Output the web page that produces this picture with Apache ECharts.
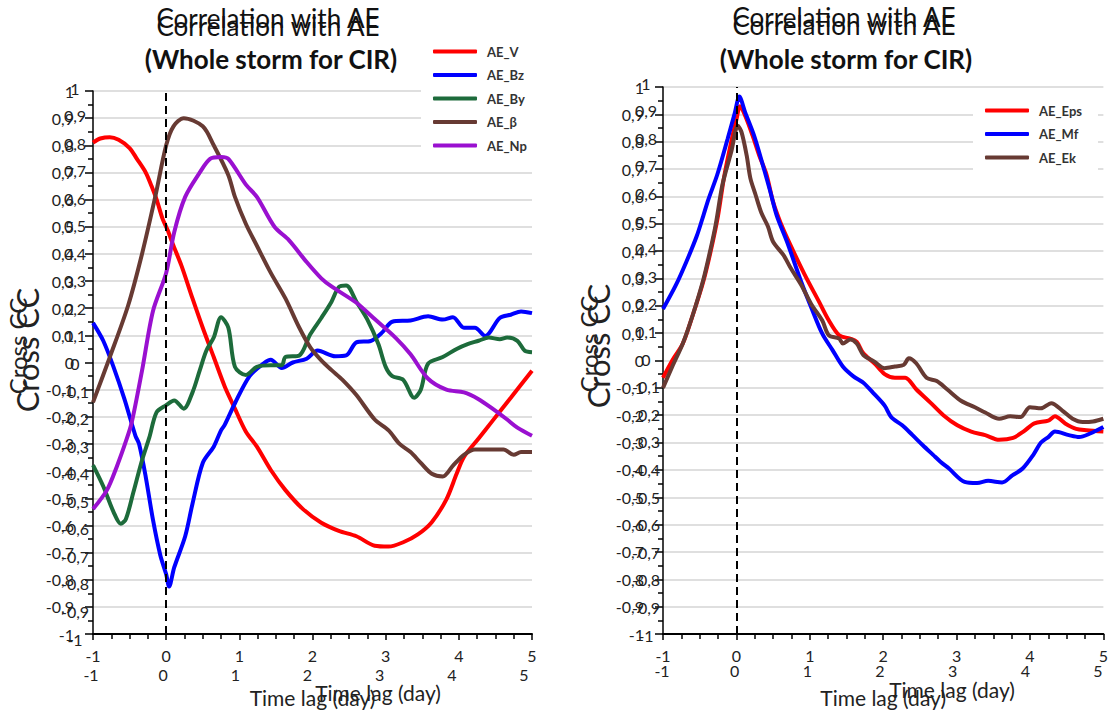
<!DOCTYPE html>
<html><head><meta charset="utf-8">
<script src="https://cdn.jsdelivr.net/npm/echarts@6/dist/echarts.min.js"></script>
<style>html,body{margin:0;padding:0;background:#fff}#c{width:1111px;height:713px}</style>
</head><body><div id="c"></div>
<script>
const titleText = 'Correlation with AE';
const subTitleText = '(Whole storm for CIR)';
const xAxisName = 'Time lag (day)';
const yAxisName = 'Cross CC';
const xTickValues = [-1, 0, 1, 2, 3, 4, 5];
const yTickLabels = ['-1','-0,9','-0,8','-0,7','-0,6','-0,5','-0,4','-0,3','-0,2','-0,1','0','0,1','0,2','0,3','0,4','0,5','0,6','0,7','0,8','0,9','1'];
const leftNames = ['AE_V', 'AE_Bz', 'AE_By', 'AE_β', 'AE_Np'];
const rightNames = ['AE_Eps', 'AE_Mf', 'AE_Ek'];

const AE_V = [[-1,0.81],[-0.9,0.825],[-0.77,0.83],[-0.65,0.82],[-0.5,0.79],[-0.4,0.75],[-0.28,0.70],[-0.2,0.65],[-0.13,0.60],[-0.05,0.53],[0.02,0.488],[0.1,0.43],[0.21,0.356],[0.36,0.236],[0.5,0.128],[0.65,0.02],[0.8,-0.088],[0.94,-0.17],[1.09,-0.255],[1.24,-0.31],[1.43,-0.396],[1.63,-0.47],[1.87,-0.54],[2.12,-0.59],[2.36,-0.62],[2.6,-0.64],[2.85,-0.675],[3.04,-0.678],[3.24,-0.662],[3.44,-0.633],[3.63,-0.588],[3.83,-0.504],[3.97,-0.41],[4.07,-0.348],[4.27,-0.28],[4.46,-0.215],[4.71,-0.13],[5,-0.03]];
const AE_Bz = [[-1,0.146],[-0.86,0.08],[-0.72,-0.016],[-0.57,-0.135],[-0.42,-0.27],[-0.37,-0.30],[-0.28,-0.42],[-0.18,-0.58],[-0.08,-0.71],[0,-0.78],[0.04,-0.825],[0.11,-0.755],[0.26,-0.64],[0.36,-0.52],[0.5,-0.37],[0.65,-0.31],[0.75,-0.25],[0.8,-0.23],[0.94,-0.15],[1.14,-0.05],[1.33,-0.004],[1.43,0.01],[1.58,-0.02],[1.73,0.0],[1.92,0.014],[2.07,0.044],[2.31,0.023],[2.46,0.026],[2.6,0.074],[2.8,0.08],[2.95,0.11],[3.09,0.15],[3.34,0.155],[3.58,0.17],[3.78,0.158],[3.92,0.167],[4.07,0.128],[4.22,0.128],[4.36,0.098],[4.56,0.164],[4.71,0.176],[4.85,0.188],[5,0.182]];
const AE_By = [[-1,-0.378],[-0.86,-0.456],[-0.72,-0.55],[-0.62,-0.594],[-0.55,-0.576],[-0.45,-0.48],[-0.33,-0.36],[-0.23,-0.276],[-0.13,-0.183],[0,-0.157],[0.11,-0.14],[0.24,-0.17],[0.36,-0.11],[0.46,-0.028],[0.55,0.044],[0.65,0.092],[0.75,0.167],[0.85,0.128],[0.94,-0.016],[1.09,-0.046],[1.24,-0.016],[1.43,-0.01],[1.58,-0.01],[1.63,0.02],[1.82,0.026],[1.97,0.104],[2.12,0.164],[2.26,0.224],[2.36,0.278],[2.46,0.284],[2.6,0.224],[2.75,0.158],[2.9,0.068],[3.0,-0.016],[3.09,-0.05],[3.24,-0.064],[3.39,-0.13],[3.48,-0.1],[3.58,-0.004],[3.78,0.02],[3.97,0.05],[4.12,0.068],[4.27,0.08],[4.41,0.092],[4.56,0.086],[4.66,0.092],[4.8,0.08],[4.9,0.044],[5,0.038]];
const AE_Beta = [[-1,-0.147],[-0.77,0.02],[-0.52,0.21],[-0.33,0.40],[-0.15,0.61],[0,0.8],[0.1,0.87],[0.24,0.90],[0.5,0.87],[0.65,0.8],[0.85,0.69],[0.94,0.61],[1.09,0.51],[1.24,0.43],[1.43,0.33],[1.63,0.236],[1.82,0.128],[1.97,0.056],[2.12,0.008],[2.26,-0.028],[2.41,-0.064],[2.6,-0.12],[2.85,-0.21],[3.04,-0.25],[3.19,-0.30],[3.34,-0.33],[3.48,-0.37],[3.63,-0.41],[3.78,-0.42],[3.92,-0.38],[4.07,-0.34],[4.22,-0.32],[4.46,-0.32],[4.61,-0.32],[4.75,-0.34],[4.85,-0.33],[5,-0.33]];
const AE_Np = [[-1,-0.54],[-0.81,-0.47],[-0.67,-0.38],[-0.55,-0.29],[-0.47,-0.22],[-0.33,-0.03],[-0.18,0.19],[0,0.33],[0.11,0.48],[0.26,0.61],[0.46,0.70],[0.6,0.75],[0.75,0.757],[0.85,0.75],[1.09,0.655],[1.24,0.61],[1.48,0.5],[1.68,0.45],[1.92,0.37],[2.12,0.31],[2.26,0.28],[2.6,0.22],[2.85,0.16],[3.14,0.09],[3.34,0.03],[3.58,-0.06],[3.83,-0.10],[4.07,-0.11],[4.27,-0.135],[4.46,-0.17],[4.66,-0.21],[4.8,-0.24],[5,-0.27]];

const AE_Eps = [[-1,-0.063],[-0.87,0.002],[-0.73,0.062],[-0.59,0.17],[-0.45,0.29],[-0.35,0.40],[-0.25,0.53],[-0.17,0.667],[-0.07,0.80],[0,0.88],[0.05,0.93],[0.12,0.895],[0.22,0.823],[0.31,0.75],[0.41,0.68],[0.5,0.58],[0.6,0.505],[0.74,0.42],[0.93,0.314],[1.12,0.218],[1.26,0.146],[1.4,0.092],[1.55,0.08],[1.64,0.068],[1.73,0.026],[1.88,-0.01],[2.02,-0.05],[2.16,-0.063],[2.3,-0.063],[2.45,-0.105],[2.64,-0.153],[2.82,-0.2],[3.01,-0.237],[3.2,-0.26],[3.39,-0.273],[3.58,-0.29],[3.77,-0.283],[3.91,-0.26],[4.06,-0.23],[4.25,-0.22],[4.34,-0.204],[4.48,-0.23],[4.63,-0.25],[4.77,-0.255],[5,-0.26]];
const AE_Mf = [[-1,0.188],[-0.82,0.278],[-0.68,0.362],[-0.54,0.455],[-0.45,0.53],[-0.38,0.59],[-0.26,0.68],[-0.12,0.81],[-0.02,0.907],[0.04,0.965],[0.12,0.907],[0.24,0.823],[0.36,0.715],[0.46,0.62],[0.55,0.53],[0.69,0.434],[0.88,0.29],[1.02,0.194],[1.17,0.098],[1.31,0.038],[1.45,-0.022],[1.59,-0.057],[1.73,-0.081],[1.88,-0.123],[2.02,-0.165],[2.11,-0.207],[2.26,-0.237],[2.4,-0.273],[2.54,-0.31],[2.68,-0.345],[2.78,-0.37],[2.9,-0.396],[3.11,-0.444],[3.28,-0.448],[3.43,-0.44],[3.62,-0.446],[3.76,-0.42],[3.9,-0.395],[4.05,-0.343],[4.15,-0.30],[4.25,-0.28],[4.34,-0.26],[4.53,-0.273],[4.67,-0.28],[4.82,-0.267],[5,-0.243]];
const AE_Ek = [[-1,-0.1],[-0.87,-0.02],[-0.73,0.062],[-0.59,0.17],[-0.45,0.296],[-0.35,0.41],[-0.28,0.5],[-0.19,0.643],[-0.07,0.763],[0.02,0.858],[0.07,0.835],[0.14,0.75],[0.19,0.667],[0.26,0.607],[0.34,0.54],[0.43,0.49],[0.5,0.434],[0.64,0.386],[0.74,0.338],[0.88,0.278],[1.02,0.206],[1.17,0.146],[1.26,0.092],[1.4,0.08],[1.45,0.062],[1.55,0.077],[1.64,0.062],[1.73,0.02],[1.88,-0.004],[2.02,-0.028],[2.16,-0.022],[2.28,-0.016],[2.35,0.008],[2.45,-0.01],[2.59,-0.063],[2.73,-0.075],[2.87,-0.105],[3.06,-0.147],[3.25,-0.171],[3.39,-0.19],[3.58,-0.213],[3.73,-0.204],[3.87,-0.207],[4.0,-0.171],[4.15,-0.175],[4.29,-0.156],[4.44,-0.183],[4.58,-0.213],[4.72,-0.225],[4.86,-0.223],[5,-0.213]];

const leftData = [AE_V, AE_Bz, AE_By, AE_Beta, AE_Np];
const rightData = [AE_Eps, AE_Mf, AE_Ek];
const leftColors = ['#ff0000', '#0000ff', '#1d6b3b', '#673a33', '#9a10d0'];
const rightColors = ['#ff0000', '#0000ff', '#673a33'];

const FONT = 'Lato, "Open Sans", sans-serif';
const TXT = '#222';

function yFmt(v) {
  const i = Math.round((v + 1) * 10);
  return yTickLabels[i] !== undefined ? yTickLabels[i] : '';
}
function xFmt(v) {
  const r = Math.round(v);
  return xTickValues.indexOf(r) >= 0 ? String(r) : '';
}

const grids = [
  {left: 93, top: 91, width: 439, height: 557},   // left main
  {left: 91, top: 88, width: 433, height: 551},   // left echo labels
  {left: 663, top: 87, width: 441, height: 561},  // right main
  {left: 662, top: 83, width: 436, height: 552}   // right echo labels
];

function mainX(gi) {
  return {
    gridIndex: gi, type: 'value', min: -1, max: 5, interval: 1,
    axisLine: {onZero: false, lineStyle: {color: '#000', width: 2}},
    axisTick: {show: true, length: 6, lineStyle: {color: '#000', width: 1.5}},
    minorTick: {show: true, splitNumber: 4, length: 5, lineStyle: {color: '#000', width: 1.5}},
    splitLine: {show: false}, minorSplitLine: {show: false},
    axisLabel: {margin: 13, fontSize: 16, color: TXT, fontFamily: FONT, formatter: xFmt},
    name: xAxisName, nameLocation: 'middle', nameGap: 53,
    nameTextStyle: {fontSize: 21, color: TXT, fontFamily: FONT}
  };
}
function echoX(gi) {
  return {
    gridIndex: gi, type: 'value', min: -1, max: 5, interval: 1,
    axisLine: {show: false}, axisTick: {show: false}, splitLine: {show: false},
    axisLabel: {margin: 27, fontSize: 16, color: TXT, fontFamily: FONT, formatter: xFmt}
  };
}
function mainY(gi) {
  return {
    gridIndex: gi, type: 'value', min: -1, max: 1, interval: 0.1,
    axisLine: {show: true, onZero: false, lineStyle: {color: '#000', width: 1.5}},
    axisTick: {show: true, length: 8, lineStyle: {color: '#000', width: 1.5}},
    minorTick: {show: true, splitNumber: 2, length: 5, lineStyle: {color: '#000', width: 1.5}},
    splitLine: {show: true, lineStyle: {color: '#d4d4d4', width: 1.5}},
    axisLabel: {margin: 19, fontSize: 16, color: TXT, fontFamily: FONT, formatter: yFmt, padding: [4, 0, 0, 0]}
  };
}
function echoY(gi) {
  return {
    gridIndex: gi, type: 'value', min: -1, max: 1, interval: 0.1,
    axisLine: {show: false}, axisTick: {show: false}, splitLine: {show: false},
    axisLabel: {margin: 16, align: 'center', fontSize: 16, color: TXT, fontFamily: FONT, formatter: yFmt}
  };
}

const dashed = {
  silent: true, symbol: 'none', label: {show: false},
  lineStyle: {color: '#000', type: [8, 5], width: 2},
  data: [{xAxis: 0}]
};

const series = [];
leftNames.forEach((n, i) => series.push({
  name: n, type: 'line', xAxisIndex: 0, yAxisIndex: 0, data: leftData[i],
  showSymbol: false, symbol: 'none', smooth: 0.3, color: leftColors[i],
  lineStyle: {width: 4, color: leftColors[i]},
  markLine: i === 0 ? dashed : undefined
}));
rightNames.forEach((n, i) => series.push({
  name: n, type: 'line', xAxisIndex: 2, yAxisIndex: 2, data: rightData[i],
  showSymbol: false, symbol: 'none', smooth: 0.3, color: rightColors[i],
  lineStyle: {width: 4, color: rightColors[i]},
  markLine: i === 0 ? dashed : undefined
}));

function titleAt(cx, top, text, size, weight) {
  return {text: text, left: cx, top: top, textAlign: 'center', padding: 0,
    textStyle: {fontSize: size, fontWeight: weight, color: '#111', fontFamily: FONT}};
}
function txt(x, y, text, size, rot) {
  return {type: 'text', x: x, y: y, rotation: rot || 0, silent: true,
    style: {text: text, font: size + 'px ' + FONT, fontSize: size, fontFamily: FONT, fill: TXT, align: 'center', verticalAlign: 'middle'}};
}

const legendBase = {
  orient: 'vertical', icon: 'roundRect', itemWidth: 44, itemHeight: 4, itemGap: 8.5,
  backgroundColor: '#fff',
  textStyle: {fontSize: 13, fontWeight: 'bold', color: '#333', fontFamily: FONT, lineHeight: 15, padding: [0, 0, 0, 5]}
};

const option = {
  animation: false,
  backgroundColor: '#fff',
  title: [
    titleAt(268, 5, titleText, 26, 'normal'),
    titleAt(268, 13, titleText, 26, 'normal'),
    titleAt(271, 46, subTitleText, 26, 'bold'),
    titleAt(844, 4, titleText, 26, 'normal'),
    titleAt(844, 12, titleText, 26, 'normal'),
    titleAt(846, 46, subTitleText, 26, 'bold')
  ],
  legend: [
    Object.assign({}, legendBase, {data: leftNames, left: 421, top: 38, padding: [6, 20, 8, 12]}),
    Object.assign({}, legendBase, {data: rightNames, left: 973, top: 97, padding: [6, 16, 18, 12]})
  ],
  grid: grids,
  xAxis: [mainX(0), echoX(1), mainX(2), echoX(3)],
  yAxis: [mainY(0), echoY(1), mainY(2), echoY(3)],
  series: series,
  graphic: [
    txt(378, 692, xAxisName, 21),
    txt(952, 689, xAxisName, 21),
    txt(27, 350, yAxisName, 31, Math.PI / 2),
    txt(17, 346, yAxisName, 24, Math.PI / 2),
    txt(598, 346, yAxisName, 31, Math.PI / 2),
    txt(588, 344, yAxisName, 24, Math.PI / 2)
  ]
};

const chart = echarts.init(document.getElementById('c'), null, {renderer: 'svg'});
chart.setOption(option);
</script>
</body></html>
